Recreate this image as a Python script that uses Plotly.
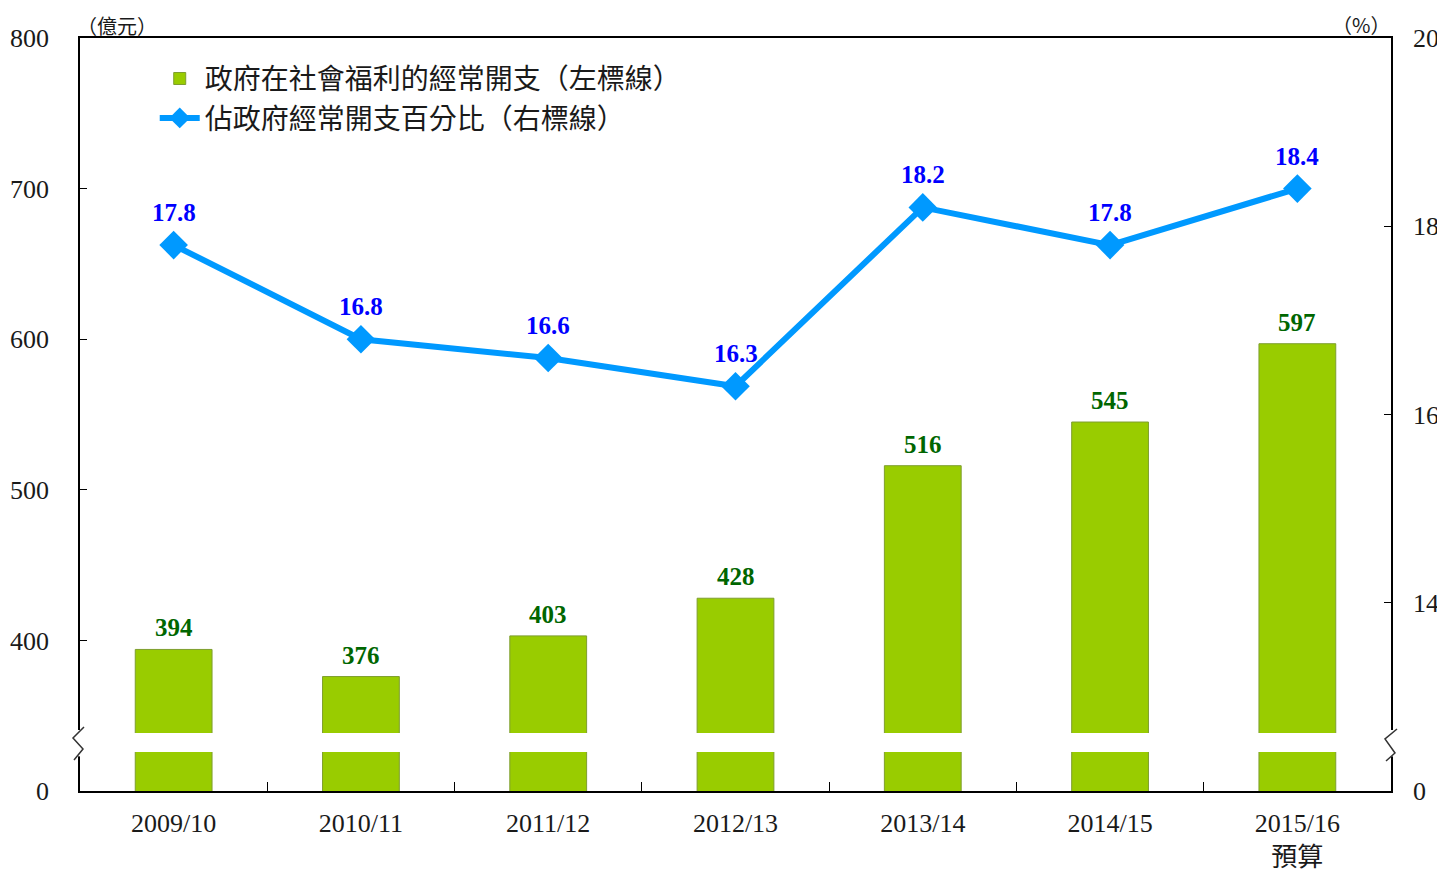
import plotly.graph_objects as go

# ---------------- data ----------------
categories = ["2009/10", "2010/11", "2011/12", "2012/13", "2013/14", "2014/15", "2015/16<br>預算"]
spending = [394, 376, 403, 428, 516, 545, 597]          # 億元 (left axis)
share_pct = [17.8, 16.8, 16.6, 16.3, 18.2, 17.8, 18.4]   # % (right axis)

left_tickvals = [300, 400, 500, 600, 700, 800]
left_ticktext = ["0", "400", "500", "600", "700", "800"]
right_tickvals = [12, 14, 16, 18, 20]
right_ticktext = ["0", "14", "16", "18", "20"]

bar_name = "政府在社會福利的經常開支（左標線）"
line_name = "佔政府經常開支百分比（右標線）"

SERIF = "Liberation Serif, Times New Roman, serif"
CJK = "Noto Sans CJK TC, Noto Sans CJK SC, sans-serif"
TXT = "#1a1a1a"

fig = go.Figure()

fig.add_trace(go.Bar(
    x=categories, y=spending, name=bar_name,
    marker=dict(color="#99CC00", line=dict(color="#7E9E2E", width=1)),
    width=0.41, yaxis="y",
))

fig.add_trace(go.Scatter(
    x=categories, y=share_pct, name=line_name, yaxis="y2",
    mode="lines+markers",
    line=dict(color="#0099FF", width=6),
    marker=dict(symbol="diamond", size=22, color="#0099FF"),
))

annotations = []
for c, v in zip(categories, spending):
    annotations.append(dict(
        x=c, y=v, xref="x", yref="y", text=f"<b>{v}</b>", showarrow=False,
        yanchor="bottom", yshift=6,
        font=dict(family=SERIF, size=25, color="#006600"),
    ))
for c, v in zip(categories, share_pct):
    annotations.append(dict(
        x=c, y=v, xref="x", yref="y2", text=f"<b>{v:.1f}</b>", showarrow=False,
        yanchor="bottom", yshift=17,
        font=dict(family=SERIF, size=25, color="#0000FF"),
    ))
annotations.append(dict(
    x=0.028, y=1.0165, xref="paper", yref="paper", text="（億元）", showarrow=False,
    xanchor="center", yanchor="middle", borderpad=0,
    font=dict(family=CJK, size=20, color=TXT),
))
annotations.append(dict(
    x=0.977, y=1.0175, xref="paper", yref="paper", text="（%）", showarrow=False,
    xanchor="center", yanchor="middle", borderpad=0,
    font=dict(family=CJK, size=20, color=TXT),
))

shapes = [
    # break gap through the bars
    dict(type="rect", xref="paper", yref="paper", x0=0.003, x1=0.997, y0=0.0518, y1=0.0770,
         fillcolor="white", line=dict(width=0), layer="above"),
    # gaps in the axis lines
    dict(type="rect", xref="paper", yref="paper", x0=-0.003, x1=0.003, y0=0.046, y1=0.081,
         fillcolor="white", line=dict(width=0), layer="above"),
    dict(type="rect", xref="paper", yref="paper", x0=0.997, x1=1.003, y0=0.046, y1=0.081,
         fillcolor="white", line=dict(width=0), layer="above"),
    # zigzag break marks
    dict(type="path", xref="paper", yref="paper",
         path="M 0.00305 0.0850 L -0.00534 0.0704 L 0.00229 0.0558 L -0.00458 0.0412",
         line=dict(color="#333333", width=1.5), layer="above"),
    dict(type="path", xref="paper", yref="paper",
         path="M 1.00458 0.0823 L 0.99542 0.0691 L 1.00305 0.0505 L 0.99619 0.0398",
         line=dict(color="#333333", width=1.5), layer="above"),
]

# the page adds an 8px body margin, so the figure is 8px smaller and the
# margins are shifted to keep the plot frame where the reference has it
fig.update_layout(
    width=1437, height=864,
    margin=dict(l=72, r=54, t=30, b=81, autoexpand=False),
    paper_bgcolor="white", plot_bgcolor="white",
    showlegend=True,
    legend=dict(
        x=0.057, y=0.979, xanchor="left", yanchor="top",
        bgcolor="rgba(0,0,0,0)", itemwidth=40, tracegroupgap=0,
        font=dict(family=CJK, size=28, color=TXT),
    ),
    xaxis=dict(
        showline=True, linecolor="black", linewidth=1.5, mirror=True,
        ticks="inside", tickson="boundaries", ticklen=9, tickcolor="black",
        tickfont=dict(family=SERIF + ", " + CJK, size=26, color=TXT),
        ticklabelstandoff=8, showgrid=False, automargin=False,
    ),
    yaxis=dict(
        range=[300, 800], tickvals=left_tickvals, ticktext=left_ticktext,
        showline=True, linecolor="black", linewidth=1.5,
        ticks="inside", ticklen=7, tickcolor="black",
        tickfont=dict(family=SERIF, size=26, color=TXT),
        ticklabelstandoff=24, showgrid=False, zeroline=False, automargin=False,
    ),
    yaxis2=dict(
        range=[12, 20], tickvals=right_tickvals, ticktext=right_ticktext,
        overlaying="y", side="right",
        showline=True, linecolor="black", linewidth=1.5,
        ticks="inside", ticklen=7, tickcolor="black",
        tickfont=dict(family=SERIF, size=26, color=TXT),
        ticklabelstandoff=15, showgrid=False, zeroline=False, automargin=False,
    ),
    annotations=annotations,
    shapes=shapes,
)

fig.write_html("out.html")
